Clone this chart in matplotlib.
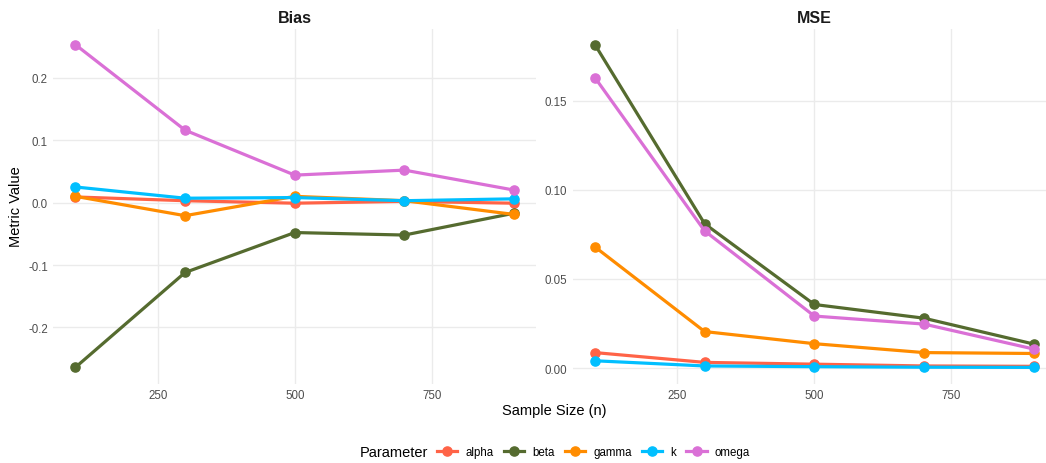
import matplotlib
matplotlib.use("Agg")
import matplotlib.pyplot as plt
from matplotlib.ticker import FixedLocator, FormatStrFormatter
from matplotlib.lines import Line2D

plt.rcParams["font.family"] = ["Liberation Sans", "DejaVu Sans"]
plt.rcParams["axes.unicode_minus"] = False

sample_sizes = [100, 300, 500, 700, 900]
parameters = ["alpha", "beta", "gamma", "k", "omega"]
colors = {
    "alpha": "#FF6347",
    "beta": "#556B2F",
    "gamma": "#FF8C00",
    "k": "#00BFFF",
    "omega": "#DA70D6",
}

bias = {
    "alpha": [0.009, 0.003, -0.001, 0.002, -0.001],
    "beta": [-0.264, -0.112, -0.048, -0.052, -0.017],
    "gamma": [0.010, -0.021, 0.010, 0.003, -0.019],
    "k": [0.025, 0.007, 0.008, 0.003, 0.006],
    "omega": [0.253, 0.116, 0.044, 0.052, 0.020],
}
mse = {
    "alpha": [0.0087, 0.0032, 0.0022, 0.0012, 0.0010],
    "beta": [0.1815, 0.0810, 0.0357, 0.0280, 0.0135],
    "gamma": [0.0680, 0.0205, 0.0137, 0.0087, 0.0082],
    "k": [0.0041, 0.0012, 0.0008, 0.0005, 0.0004],
    "omega": [0.1630, 0.0770, 0.0292, 0.0247, 0.0107],
}

bias_ticks = [-0.2, -0.1, 0.0, 0.1, 0.2]
mse_ticks = [0.00, 0.05, 0.10, 0.15]
x_ticks = [250, 500, 750]

fig = plt.figure(figsize=(10.46, 4.64), dpi=100)
ax_bias = fig.add_axes([0.0511, 0.1713, 0.4614, 0.7651])
ax_mse = fig.add_axes([0.5478, 0.1713, 0.4614, 0.7651])


def draw_panel(ax, data, title, yticks, fmt):
    # One facet: a line with points for each parameter.
    for name in parameters:
        ax.plot(sample_sizes, data[name], color=colors[name], linewidth=2.3,
                marker="o", markersize=6.6, solid_capstyle="butt")
    ax.margins(x=0.05, y=0.05)
    ax.xaxis.set_major_locator(FixedLocator(x_ticks))
    ax.yaxis.set_major_locator(FixedLocator(yticks))
    ax.yaxis.set_major_formatter(FormatStrFormatter(fmt))
    ax.grid(True, color="#EBEBEB", linewidth=1.0)
    ax.set_axisbelow(True)
    for spine in ax.spines.values():
        spine.set_visible(False)
    ax.tick_params(length=0, labelsize=8.3, labelcolor="#4D4D4D", pad=4)
    ax.set_title(title, fontsize=11.5, fontweight="bold", color="#1A1A1A", pad=5)


draw_panel(ax_bias, bias, "Bias", bias_ticks, "%.1f")
draw_panel(ax_mse, mse, "MSE", mse_ticks, "%.2f")

ax_bias.set_ylabel("Metric Value", fontsize=10.5, labelpad=4)
fig.text(0.530, 0.114, "Sample Size (n)", fontsize=10.5, ha="center", va="center")

handles = [Line2D([0], [0], color=colors[p], linewidth=2.3, marker="o", markersize=6.6)
           for p in parameters]
fig.text(0.409, 0.024, "Parameter", fontsize=10.5, ha="right", va="center")
fig.legend(handles, parameters, loc="center left", bbox_to_anchor=(0.418, 0.024),
           ncol=5, frameon=False, fontsize=8.3, handlelength=1.75,
           handletextpad=0.7, columnspacing=0.9, borderpad=0, borderaxespad=0)

fig.savefig("out.png", dpi=100)
